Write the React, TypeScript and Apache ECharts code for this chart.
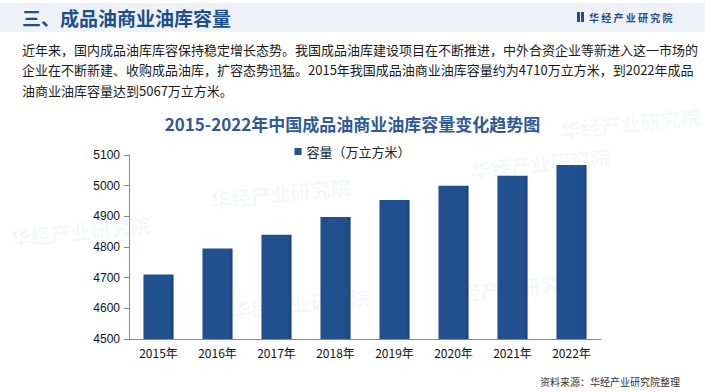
import React, { useEffect, useRef } from "react";
import * as echarts from "echarts";

const categories = ["2015年", "2016年", "2017年", "2018年", "2019年", "2020年", "2021年", "2022年"];
const capacity = [4710, 4795, 4840, 4898, 4953, 5000, 5032, 5067];
const seriesName = "容量（万立方米）";
const headerTitle = "三、成品油商业油库容量";
const chartTitle = "2015-2022年中国成品油商业油库容量变化趋势图";
const paragraph = [
  "近年来，国内成品油库库容保持稳定增长态势。我国成品油库建设项目在不断推进，中外合资企业等新进入这一市场的",
  "企业在不断新建、收购成品油库，扩容态势迅猛。2015年我国成品油商业油库容量约为4710万立方米，到2022年成品",
  "油商业油库容量达到5067万立方米。",
];
const brand = "华 经 产 业 研 究 院";
const sourceText = "资料来源：华经产业研究院整理";
const watermark = "华经产业研究院";

const FONT = '"Noto Sans CJK SC", "Liberation Sans", sans-serif';

export default function App() {
  const ref = useRef<HTMLDivElement>(null);
  useEffect(() => {
    if (!ref.current) return;
    const chart = echarts.init(ref.current, null, { renderer: "svg" });
    const wm = (x: number, y: number) => ({
      type: "text",
      x,
      y,
      rotation: 0.1,
      z: -1,
      silent: true,
      style: {
        text: watermark,
        fill: "rgba(150,160,180,0.09)",
        font: `bold 20px ${FONT}`,
      },
    });
    chart.setOption({
      animation: false,
      backgroundColor: "#ffffff",
      title: {
        text: chartTitle,
        left: "center",
        top: 110,
        textStyle: { fontFamily: FONT, fontSize: 17, fontWeight: "bold", color: "#2f5a97" },
      },
      legend: {
        top: 140,
        left: "center",
        itemWidth: 7,
        itemHeight: 7,
        itemGap: 4,
        icon: "rect",
        textStyle: { fontFamily: FONT, fontSize: 13, color: "#222" },
        data: [seriesName],
      },
      grid: { left: 129, right: 104, top: 155, bottom: 53, containLabel: false },
      xAxis: {
        type: "category",
        data: categories,
        axisLine: { lineStyle: { color: "#888" } },
        axisTick: { length: 4, lineStyle: { color: "#888" } },
        axisLabel: { fontFamily: FONT, fontSize: 12, color: "#111", margin: 7 },
      },
      yAxis: {
        type: "value",
        min: 4500,
        max: 5100,
        interval: 100,
        axisLine: { show: true, lineStyle: { color: "#888" } },
        axisTick: { show: true, length: 5, lineStyle: { color: "#888" } },
        splitLine: { show: false },
        axisLabel: {
          fontFamily: '"Liberation Sans", Arial, sans-serif',
          fontSize: 12,
          color: "#111",
          margin: 9,
          formatter: (v: number) => String(v),
        },
      },
      series: [
        {
          name: seriesName,
          type: "bar",
          data: capacity,
          barWidth: "51%",
          itemStyle: {
            color: new echarts.graphic.LinearGradient(0, 0, 1, 0, [
              { offset: 0, color: "#21508f" },
              { offset: 0.88, color: "#21508f" },
              { offset: 1, color: "#173f78" },
            ]),
          },
        },
      ],
      graphic: [
        { type: "rect", shape: { x: 0, y: 3, width: 705, height: 29 }, style: { fill: "#eef2f8" }, z: -2 },
        wm(210, 190),
        wm(10, 228),
        wm(470, 160),
        wm(440, 285),
        wm(560, 120),
        wm(230, 300),
        {
          type: "text",
          x: 22,
          y: 17,
          style: { text: headerTitle, font: `bold 19px ${FONT}`, fill: "#1f4e8c", textVerticalAlign: "middle" },
        },
        { type: "rect", shape: { x: 577, y: 12, width: 3, height: 10 }, style: { fill: "#1f4e8c" } },
        { type: "rect", shape: { x: 581, y: 12, width: 3, height: 10 }, style: { fill: "#1f4e8c" } },
        {
          type: "text",
          x: 589,
          y: 17,
          style: { text: brand, font: `bold 10px ${FONT}`, fill: "#1f4e8c", textVerticalAlign: "middle" },
        },
        ...paragraph.map((line, i) => ({
          type: "text",
          x: 22,
          y: 49 + i * 20.5,
          style: { text: line, font: `13px ${FONT}`, fill: "#1a1a1a", textVerticalAlign: "middle" },
        })),
        {
          type: "text",
          x: 680,
          y: 381,
          style: { text: sourceText, font: `10px ${FONT}`, fill: "#333", textAlign: "right", textVerticalAlign: "middle" },
        },
      ],
    });
    return () => chart.dispose();
  }, []);
  return <div ref={ref} style={{ position: "fixed", left: 0, top: 0, width: 705, height: 392 }} />;
}
